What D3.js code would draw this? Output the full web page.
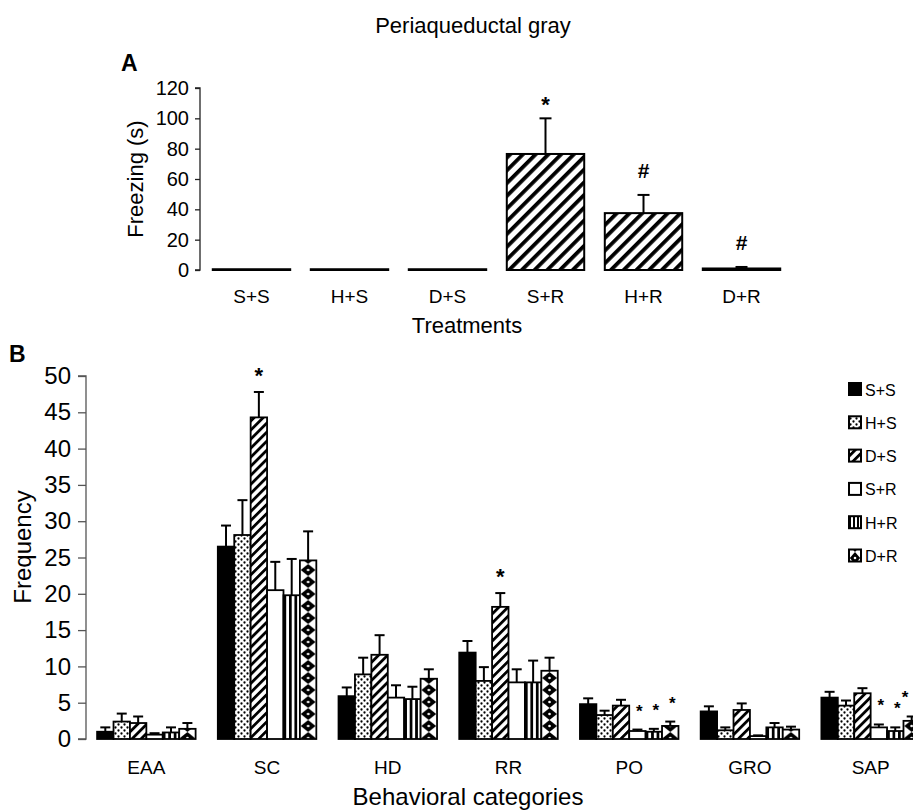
<!DOCTYPE html>
<html>
<head>
<meta charset="utf-8">
<script src="https://cdn.jsdelivr.net/npm/d3@7"></script>
<style>
  body { margin: 0; background: #fff; }
  text { font-family: "Liberation Sans", Arial, sans-serif; fill: #000; }
</style>
</head>
<body>
<div id="chart"></div>
<script>
// ---- data, panel A
var treatments = ["S+S", "H+S", "D+S", "S+R", "H+R", "D+R"];
var freezeMean = [0.5, 0.5, 0.5, 76.5, 37.5, 1.0];
var freezeSem  = [0, 0, 0, 23.5, 12, 1.0];
var freezeMark = ["", "", "", "*", "#", "#"];

// ---- data, panel B
var behaviours = ["EAA", "SC", "HD", "RR", "PO", "GRO", "SAP"];
var groups = ["S+S", "H+S", "D+S", "S+R", "H+R", "D+R"];
var meanSS = [1.0, 26.5, 5.9, 11.9, 4.8, 3.8, 5.7];
var meanHS = [2.4, 28.1, 8.9, 8.0, 3.3, 1.2, 4.6];
var meanDS = [2.2, 44.3, 11.6, 18.2, 4.6, 4.0, 6.3];
var meanSR = [0.6, 20.5, 5.7, 7.8, 1.1, 0.4, 1.6];
var meanHR = [0.9, 19.8, 5.5, 7.8, 1.0, 1.6, 1.1];
var meanDR = [1.4, 24.6, 8.3, 9.4, 1.8, 1.3, 2.5];
var semSS = [0.6, 2.9, 1.2, 1.6, 0.8, 0.7, 0.8];
var semHS = [1.1, 4.8, 2.3, 1.9, 0.6, 0.4, 0.7];
var semDS = [0.9, 3.5, 2.7, 1.9, 0.8, 0.9, 0.7];
var semSR = [0.2, 3.9, 1.7, 1.8, 0.2, 0.1, 0.4];
var semHR = [0.7, 5.0, 1.7, 3.0, 0.4, 0.6, 0.5];
var semDR = [0.8, 4.0, 1.3, 1.8, 0.6, 0.4, 0.6];
var starsB = [["SC", "D+S"], ["RR", "D+S"], ["PO", "S+R"], ["PO", "H+R"], ["PO", "D+R"],
              ["SAP", "S+R"], ["SAP", "H+R"], ["SAP", "D+R"]];

var means = [meanSS, meanHS, meanDS, meanSR, meanHR, meanDR];
var sems = [semSS, semHS, semDS, semSR, semHR, semDR];

var svg = d3.select("#chart").append("svg")
  .attr("width", 913)
  .attr("height", 812);
var defs = svg.append("defs");

// shared patterns
function stripes(id, size, lw) {
  var p = defs.append("pattern")
    .attr("id", id)
    .attr("patternUnits", "userSpaceOnUse")
    .attr("width", size).attr("height", size)
    .attr("patternTransform", "rotate(45)");
  p.append("rect").attr("width", size).attr("height", size).attr("fill", "#fff");
  p.append("rect").attr("width", lw).attr("height", size).attr("fill", "#000");
}
stripes("hatchA", 9, 3.8);
stripes("hatchB", 6.4, 2.8);

var dots = defs.append("pattern")
  .attr("id", "dots")
  .attr("patternUnits", "userSpaceOnUse")
  .attr("width", 6).attr("height", 6);
dots.append("rect").attr("width", 6).attr("height", 6).attr("fill", "#fff");
dots.append("circle").attr("cx", 1.5).attr("cy", 1.5).attr("r", 1.15).attr("fill", "#000");
dots.append("circle").attr("cx", 4.5).attr("cy", 4.5).attr("r", 1.15).attr("fill", "#000");

// patterns that must line up with the bar's left edge
function barPattern(id, g, x, w) {
  var p = defs.append("pattern")
    .attr("id", id)
    .attr("patternUnits", "userSpaceOnUse")
    .attr("x", x).attr("y", 0);
  if (g === "H+R") {
    var pw = w / 3;
    p.attr("width", pw).attr("height", 10);
    p.append("rect").attr("width", pw).attr("height", 10).attr("fill", "#fff");
    p.append("rect").attr("width", pw * 0.5).attr("height", 10).attr("fill", "#000");
  } else {
    var ph = 12;
    p.attr("width", w).attr("height", ph);
    p.append("rect").attr("width", w).attr("height", ph).attr("fill", "#fff");
    p.append("path")
      .attr("d", "M" + (w / 2) + ",0 L" + (w - 0.8) + "," + (ph / 2) + " L" + (w / 2) + "," + ph +
                 " L0.8," + (ph / 2) + "Z")
      .attr("fill", "#000");
    p.append("circle").attr("cx", w / 2).attr("cy", ph / 2).attr("r", 1.3).attr("fill", "#fff");
  }
  return "url(#" + id + ")";
}

function fillFor(g, id, x, w) {
  if (g === "S+S") return "#000";
  if (g === "H+S") return "url(#dots)";
  if (g === "D+S") return "url(#hatchB)";
  if (g === "S+R") return "#fff";
  return barPattern(id, g, x, w);
}

// ---------------- panel A ----------------
var xA = d3.scaleBand().domain(treatments).range([202, 791])
  .paddingInner(0.21).paddingOuter(0.11);
var yA = d3.scaleLinear().domain([0, 120]).range([270, 88]);

svg.append("text")
  .attr("x", 473).attr("y", 33)
  .attr("text-anchor", "middle")
  .attr("font-size", 22)
  .text("Periaqueductal gray");

svg.append("text")
  .attr("x", 121).attr("y", 71)
  .attr("font-size", 23).attr("font-weight", "bold")
  .text("A");

var axA = svg.append("g")
  .attr("transform", "translate(200,0)")
  .call(d3.axisLeft(yA).tickValues(d3.range(0, 121, 20)).tickSize(5).tickPadding(6));
axA.select(".domain").attr("stroke", "#222").attr("stroke-width", 1.3).attr("d", "M-5," + yA(120) + "H0V" + yA(0) + "H-5");
axA.selectAll(".tick line").attr("stroke", "#222").attr("stroke-width", 1.3);
axA.selectAll(".tick text").attr("font-size", 20).attr("fill", "#000")
  .style("font-family", "'Liberation Sans', Arial, sans-serif");

svg.append("text")
  .attr("transform", "translate(143,179) rotate(-90)")
  .attr("text-anchor", "middle")
  .attr("font-size", 22)
  .text("Freezing (s)");

var barsA = svg.append("g");
treatments.forEach(function (t, i) {
  var x = xA(t), w = xA.bandwidth();
  var top = yA(freezeMean[i]);
  if (freezeSem[i] > 0) {
    var et = yA(freezeMean[i] + freezeSem[i]);
    barsA.append("line").attr("x1", x + w / 2).attr("x2", x + w / 2)
      .attr("y1", top).attr("y2", et).attr("stroke", "#000").attr("stroke-width", 2);
    barsA.append("line").attr("x1", x + w / 2 - 6).attr("x2", x + w / 2 + 6)
      .attr("y1", et).attr("y2", et).attr("stroke", "#000").attr("stroke-width", 2);
  }
  barsA.append("rect")
    .attr("x", x).attr("y", top)
    .attr("width", w).attr("height", yA(0) - top)
    .attr("fill", "url(#hatchA)")
    .attr("stroke", "#000").attr("stroke-width", 2);
  if (freezeMark[i]) {
    barsA.append("text")
      .attr("x", x + w / 2)
      .attr("y", yA(freezeMean[i] + freezeSem[i]) - (freezeMark[i] === "*" ? 6 : 17))
      .attr("text-anchor", "middle")
      .attr("font-size", freezeMark[i] === "*" ? 22 : 21)
      .attr("font-weight", "bold")
      .text(freezeMark[i]);
  }
  svg.append("text")
    .attr("x", x + w / 2).attr("y", 303)
    .attr("text-anchor", "middle")
    .attr("font-size", 19)
    .text(t);
});

svg.append("text")
  .attr("x", 467).attr("y", 333)
  .attr("text-anchor", "middle")
  .attr("font-size", 22)
  .text("Treatments");

// ---------------- panel B ----------------
var xB = d3.scaleBand().domain(behaviours).range([86, 931])
  .paddingInner(0.184).paddingOuter(0.092);
var xG = d3.scaleBand().domain(groups).range([0, xB.bandwidth()]);
var yB = d3.scaleLinear().domain([0, 50]).range([739, 376]);

svg.append("text")
  .attr("x", 9).attr("y", 362)
  .attr("font-size", 23).attr("font-weight", "bold")
  .text("B");

var axB = svg.append("g")
  .attr("transform", "translate(86,0)")
  .call(d3.axisLeft(yB).tickValues(d3.range(0, 51, 5)).tickSize(8).tickPadding(7));
axB.select(".domain").attr("stroke", "#555").attr("stroke-width", 1.3).attr("d", "M-8," + yB(50) + "H0V" + yB(0) + "H-8");
axB.selectAll(".tick line").attr("stroke", "#555").attr("stroke-width", 1.3);
axB.selectAll(".tick text").attr("font-size", 24).attr("fill", "#000")
  .style("font-family", "'Liberation Sans', Arial, sans-serif");

svg.append("text")
  .attr("transform", "translate(31,547) rotate(-90)")
  .attr("text-anchor", "middle")
  .attr("font-size", 24)
  .text("Frequency");

var barsB = svg.append("g");
behaviours.forEach(function (b, ci) {
  var gx = xB(b);
  groups.forEach(function (g, si) {
    var x = gx + xG(g), w = xG.bandwidth();
    var m = means[si][ci], s = sems[si][ci];
    var top = yB(m), et = yB(m + s), cx = x + w / 2;
    barsB.append("line").attr("x1", cx).attr("x2", cx)
      .attr("y1", top).attr("y2", et).attr("stroke", "#000").attr("stroke-width", 2);
    barsB.append("line").attr("x1", cx - 5).attr("x2", cx + 5)
      .attr("y1", et).attr("y2", et).attr("stroke", "#000").attr("stroke-width", 2);
    barsB.append("rect")
      .attr("x", x).attr("y", top)
      .attr("width", w).attr("height", yB(0) - top)
      .attr("fill", fillFor(g, "pb" + ci + "_" + si, x, w))
      .attr("stroke", "#000").attr("stroke-width", 1.8);
  });
  svg.append("text")
    .attr("x", gx + xB.bandwidth() / 2).attr("y", 774)
    .attr("text-anchor", "middle")
    .attr("font-size", 19)
    .text(b);
});

starsB.forEach(function (d) {
  var ci = behaviours.indexOf(d[0]), si = groups.indexOf(d[1]);
  var big = means[si][ci] > 10;
  var sx = xB(d[0]) + xG(d[1]) + xG.bandwidth() / 2 + (big ? 0 : 2);
  svg.append("text")
    .attr("x", Math.min(sx, 905))
    .attr("y", yB(means[si][ci] + sems[si][ci]) - (big ? 9 : 13))
    .attr("text-anchor", "middle")
    .attr("font-size", big ? 22 : 17)
    .attr("font-weight", "bold")
    .text("*");
});

svg.append("text")
  .attr("x", 468).attr("y", 805)
  .attr("text-anchor", "middle")
  .attr("font-size", 24)
  .text("Behavioral categories");

// legend
var lg = svg.append("g");
groups.forEach(function (g, i) {
  var ly = 383 + i * 33.3;
  lg.append("rect")
    .attr("x", 849).attr("y", ly)
    .attr("width", 12).attr("height", 12)
    .attr("fill", fillFor(g, "pl" + i, 849, 12))
    .attr("stroke", "#000").attr("stroke-width", 2);
  lg.append("text")
    .attr("x", 865).attr("y", ly + 12.5)
    .attr("font-size", 16)
    .text(g);
});
</script>
</body>
</html>
